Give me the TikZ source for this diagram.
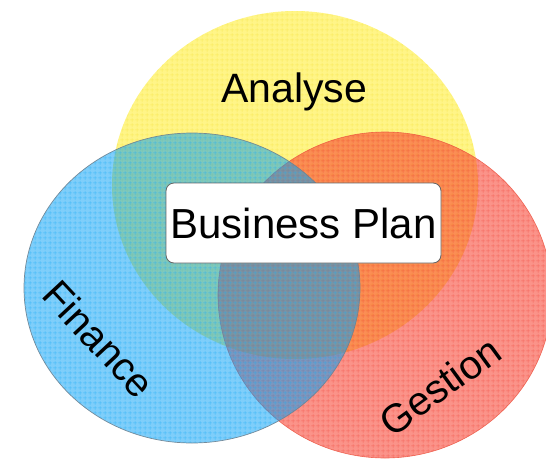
\documentclass[tikz,border=0pt]{standalone}
\usepackage{fontspec}
\setmainfont{Liberation Sans}
\usetikzlibrary{shapes.geometric,patterns.meta}
\definecolor{yel}{RGB}{255,245,135}
\definecolor{yelgrid}{RGB}{245,228,60}
\definecolor{blu}{RGB}{0,158,246}
\definecolor{blugrid}{RGB}{20,170,245}
\definecolor{redc}{RGB}{248,62,45}
\definecolor{redgrid}{RGB}{238,60,50}
\definecolor{bluline}{RGB}{110,130,145}
\definecolor{redline}{RGB}{235,80,60}
\tikzdeclarepattern{
  name=finegrid,
  type=uncolored,
  bounding box={(0pt,0pt) and (4.6pt,4.6pt)},
  tile size={(4.6pt,4.6pt)},
  code={\draw[line width=0.6pt] (0pt,2.3pt) -- (4.6pt,2.3pt) (2.3pt,0pt) -- (2.3pt,4.6pt);}
}
\begin{document}
\begin{tikzpicture}[x=1pt,y=-1pt,
  venn/.style={ellipse, inner sep=0pt, outer sep=0pt},
  lab/.style={font=\fontsize{40}{48}\selectfont, inner sep=0pt},
  planbox/.style={draw=black!60, line width=0.8pt, fill=white, rounded corners=8pt,
    minimum width=275pt, minimum height=80pt, inner sep=0pt,
    font=\fontsize{42}{50}\selectfont}]
\useasboundingbox (0,0) rectangle (546,458);
% yellow circle
\node[venn, minimum width=366pt, minimum height=348pt, fill=yel,
  postaction={pattern={finegrid}, pattern color=yelgrid, fill opacity=0.55}]
  (cA) at (295,185) {};
% red circle
\node[venn, minimum width=334pt, minimum height=326pt, fill=redc, fill opacity=0.56,
  postaction={pattern={finegrid}, pattern color=redgrid, fill opacity=0.45},
  postaction={draw=redline, draw opacity=0.8, line width=0.6pt}]
  (cG) at (385,295) {};
% blue circle
\node[venn, minimum width=336pt, minimum height=310pt, fill=blu, fill opacity=0.5,
  postaction={pattern={finegrid}, pattern color=blugrid, fill opacity=0.55},
  postaction={draw=bluline, draw opacity=0.9, line width=0.7pt}]
  (cF) at (192,288) {};
% business plan box
\node[planbox] (bp) at (303.5,223) {Business Plan};
% labels
\node[lab, font=\fontsize{41}{48}\selectfont, anchor=base] (la) at (294,102) {Analyse};
\node[lab, rotate=-47] (lf) at (99,339) {Finance};
\node[lab, rotate=36] (lg) at (440,386) {Gestion};
\end{tikzpicture}
\end{document}
